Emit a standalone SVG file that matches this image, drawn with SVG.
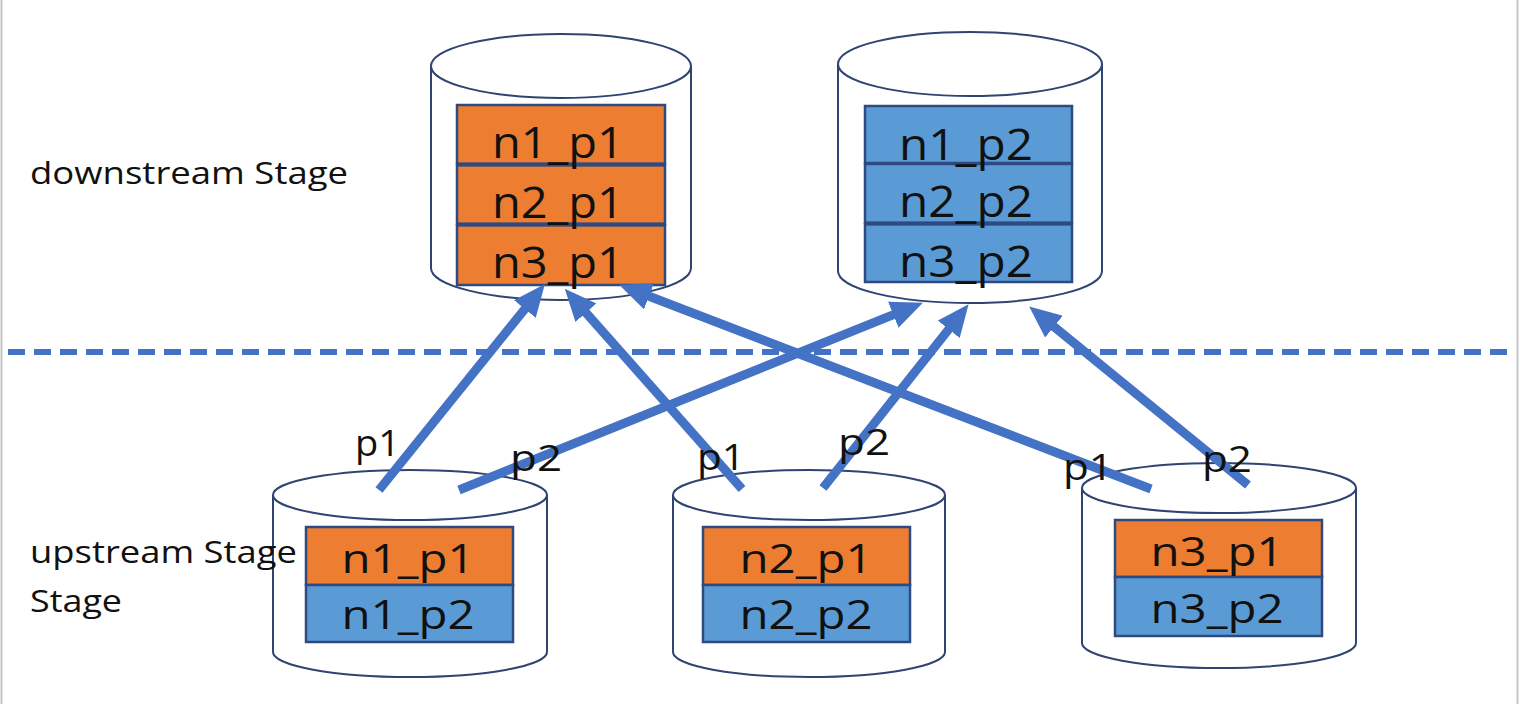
<svg xmlns="http://www.w3.org/2000/svg" width="1520" height="704" viewBox="0 0 1520 704">
<defs>
<style>
.cyl{fill:#ffffff;stroke:#2f4470;stroke-width:2}
.or{fill:#ed7d31;stroke:#2f4a80;stroke-width:2.5}
.bl{fill:#5b9bd5;stroke:#2f4a80;stroke-width:2.5}
.div{stroke:#2f4a80;stroke-width:4}
.cell{font-family:"Open Sans","Liberation Sans",sans-serif;font-size:44px;fill:#111;text-anchor:middle}
.ucell{font-family:"Open Sans","Liberation Sans",sans-serif;font-size:40px;fill:#111;text-anchor:middle}
.lbl{font-family:"Open Sans","Liberation Sans",sans-serif;font-size:37px;fill:#111}
.stage{font-family:"Open Sans","Liberation Sans",sans-serif;font-size:31px;fill:#111}
.arr{stroke:#4472c4;stroke-width:9;fill:none;marker-end:url(#ah)}
</style>
<marker id="ah" markerUnits="userSpaceOnUse" markerWidth="32" markerHeight="28" refX="9" refY="14" orient="auto">
<path d="M0,0 L32,14 L0,28 z" fill="#4472c4"/>
</marker>
</defs>
<rect x="0" y="0" width="1520" height="704" fill="#ffffff"/>
<line x1="1.5" y1="0" x2="1.5" y2="704" stroke="#c4c4c4" stroke-width="2"/>
<line x1="1517.5" y1="0" x2="1517.5" y2="704" stroke="#c4c4c4" stroke-width="2"/>

<g id="divider">
<line x1="8" y1="352" x2="1516" y2="352" stroke="#4472c4" stroke-width="6" stroke-dasharray="17 9"/>
</g>

<g id="down1">
<path class="cyl" d="M431,66 L431,268 A130,32 0 0 0 691,268 L691,66"/>
<ellipse class="cyl" cx="561" cy="66" rx="130" ry="32"/>
<rect class="or" x="457" y="105" width="208" height="59"/>
<rect class="or" x="457" y="165" width="208" height="59"/>
<rect class="or" x="457" y="225" width="208" height="60"/>
<line class="div" x1="457" y1="164.5" x2="665" y2="164.5"/>
<line class="div" x1="457" y1="224.5" x2="665" y2="224.5"/>
<text class="cell" x="558" y="158" textLength="132" lengthAdjust="spacingAndGlyphs">n1_p1</text>
<text class="cell" x="558" y="218" textLength="132" lengthAdjust="spacingAndGlyphs">n2_p1</text>
<text class="cell" x="558" y="278" textLength="132" lengthAdjust="spacingAndGlyphs">n3_p1</text>
</g>

<g id="down2">
<path class="cyl" d="M838,64 L838,271 A132,32 0 0 0 1102,271 L1102,64"/>
<ellipse class="cyl" cx="970" cy="64" rx="132" ry="32"/>
<rect class="bl" x="865" y="106" width="207" height="57"/>
<rect class="bl" x="865" y="164" width="207" height="59"/>
<rect class="bl" x="865" y="224" width="207" height="58"/>
<line class="div" x1="865" y1="223.5" x2="1072" y2="223.5"/>
<text class="cell" x="966" y="160" textLength="134" lengthAdjust="spacingAndGlyphs">n1_p2</text>
<text class="cell" x="966" y="217" textLength="134" lengthAdjust="spacingAndGlyphs">n2_p2</text>
<text class="cell" x="966" y="277" textLength="134" lengthAdjust="spacingAndGlyphs">n3_p2</text>
</g>

<g id="up1">
<path class="cyl" d="M273,495 L273,652 A137,25 0 0 0 547,652 L547,495"/>
<ellipse class="cyl" cx="410" cy="495" rx="137" ry="25"/>
<rect class="or" x="306" y="527" width="207" height="58"/>
<rect class="bl" x="306" y="585" width="207" height="57"/>
<text class="ucell" x="408" y="573" textLength="133" lengthAdjust="spacingAndGlyphs">n1_p1</text>
<text class="ucell" x="408" y="629" textLength="133" lengthAdjust="spacingAndGlyphs">n1_p2</text>
</g>

<g id="up2">
<path class="cyl" d="M673,495 L673,652 A136,25 0 0 0 945,652 L945,495"/>
<ellipse class="cyl" cx="809" cy="495" rx="136" ry="25"/>
<rect class="or" x="703" y="527" width="207" height="58"/>
<rect class="bl" x="703" y="585" width="207" height="57"/>
<text class="ucell" x="806" y="573" textLength="133" lengthAdjust="spacingAndGlyphs">n2_p1</text>
<text class="ucell" x="806" y="629" textLength="133" lengthAdjust="spacingAndGlyphs">n2_p2</text>
</g>

<g id="up3">
<path class="cyl" d="M1082,488 L1082,643 A137,25 0 0 0 1356,643 L1356,488"/>
<ellipse class="cyl" cx="1219" cy="488" rx="137" ry="25"/>
<rect class="or" x="1115" y="520" width="207" height="57"/>
<rect class="bl" x="1115" y="577" width="207" height="59"/>
<text class="ucell" x="1217" y="566" textLength="133" lengthAdjust="spacingAndGlyphs">n3_p1</text>
<text class="ucell" x="1217" y="623" textLength="133" lengthAdjust="spacingAndGlyphs">n3_p2</text>
</g>

<g id="connectors">
<line class="arr" x1="379" y1="490" x2="530.5" y2="302"/>
<line class="arr" x1="459" y1="490" x2="901.6" y2="311.3"/>
<line class="arr" x1="742" y1="489" x2="580" y2="306"/>
<line class="arr" x1="823" y1="488" x2="954.3" y2="322.3"/>
<line class="arr" x1="1151" y1="489" x2="640.6" y2="293"/>
<line class="arr" x1="1248" y1="485" x2="1047" y2="321"/>
</g>

<g id="labels">
<text class="lbl" x="355" y="456" textLength="45" lengthAdjust="spacingAndGlyphs">p1</text>
<text class="lbl" x="510" y="471" textLength="52" lengthAdjust="spacingAndGlyphs">p2</text>
<text class="lbl" x="697" y="470" textLength="48" lengthAdjust="spacingAndGlyphs">p1</text>
<text class="lbl" x="838" y="455" textLength="52" lengthAdjust="spacingAndGlyphs">p2</text>
<text class="lbl" x="1063" y="480" textLength="50" lengthAdjust="spacingAndGlyphs">p1</text>
<text class="lbl" x="1202" y="472" textLength="50" lengthAdjust="spacingAndGlyphs">p2</text>
<text class="stage" x="30" y="184" textLength="318" lengthAdjust="spacingAndGlyphs">downstream Stage</text>
<text class="stage" x="30" y="563" textLength="267" lengthAdjust="spacingAndGlyphs">upstream Stage</text>
<text class="stage" x="30" y="612" textLength="92" lengthAdjust="spacingAndGlyphs">Stage</text>
</g>
</svg>
